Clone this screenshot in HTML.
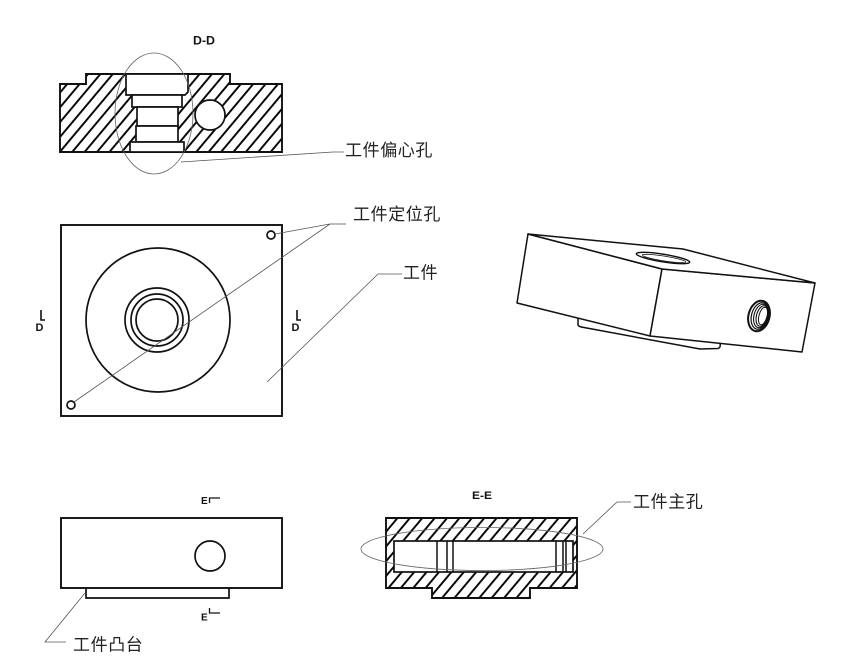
<!DOCTYPE html>
<html><head><meta charset="utf-8"><style>
html,body{margin:0;padding:0;background:#fff;}
svg{display:block;}
.cj{font-family:"Liberation Sans","Noto Sans CJK SC",sans-serif;font-size:17px;fill:#222;letter-spacing:0.6px;}
.lb{font-family:"Liberation Sans",sans-serif;font-weight:bold;fill:#111;}
</style></head><body>
<svg width="844" height="669" viewBox="0 0 844 669" xmlns="http://www.w3.org/2000/svg">
<defs>
<pattern id="h" patternUnits="userSpaceOnUse" width="9.5" height="40" patternTransform="rotate(40)">
<line x1="1" y1="-5" x2="1" y2="45" stroke="#000" stroke-width="1.9"/>
</pattern>
</defs>

<!-- D-D section -->
<text class="lb" x="193" y="44.5" font-size="12" textLength="22" lengthAdjust="spacingAndGlyphs">D-D</text>
<path d="M60,84 L86,84 L86,74 L230,74 L230,84 L282,84 L282,152 L60,152 Z" fill="url(#h)" stroke="#111" stroke-width="1.9"/>
<g fill="#fff" stroke="#111" stroke-width="1.7" stroke-linejoin="miter">
<path d="M126,74 L188,74 L188,92 L185,95 L126,95 Z"/>
<rect x="132" y="95" width="50" height="12"/>
<rect x="137" y="107" width="41" height="19"/>
<rect x="136" y="126" width="42" height="16"/>
<rect x="130" y="142" width="54" height="10"/>
<circle cx="210" cy="115" r="15"/>
</g>
<ellipse cx="154" cy="113.5" rx="39" ry="60.5" fill="none" stroke="#666" stroke-width="0.8"/>
<polyline points="181,162 333,152 344,152" fill="none" stroke="#555" stroke-width="0.8"/>
<text class="cj" x="345" y="156">工件偏心孔</text>

<!-- Plan view -->
<rect x="61" y="225" width="221" height="191" fill="none" stroke="#111" stroke-width="1.9"/>
<g fill="none" stroke="#111" stroke-width="1.7">
<circle cx="158" cy="320" r="72"/>
<circle cx="157" cy="320" r="32"/>
<circle cx="157" cy="320" r="26"/>
<circle cx="157" cy="320" r="21"/>
<circle cx="271" cy="235" r="4"/>
<circle cx="71" cy="405" r="4"/>
</g>
<g fill="none" stroke="#555" stroke-width="0.8">
<line x1="74" y1="402" x2="330" y2="224"/>
<line x1="275" y1="234" x2="330" y2="224"/>
<line x1="330" y1="224" x2="346" y2="224"/>
<polyline points="267,382 378,274 402,274"/>
</g>
<text class="cj" x="353" y="220">工件定位孔</text>
<text class="cj" x="403" y="278.5">工件</text>
<!-- D markers -->
<g fill="none" stroke="#111" stroke-width="1.6">
<polyline points="41,310 41,320 45,320"/>
<polyline points="297,310 297,320 301,320"/>
</g>
<text class="lb" x="35.5" y="331" font-size="11">D</text>
<text class="lb" x="291.5" y="331" font-size="11">D</text>

<!-- 3D view -->
<g fill="#fff" stroke="#111" stroke-width="1.5" stroke-linejoin="round">
<path d="M578,317 L578,325 Q579,327 584,327.5 L700,349 L718,348.5 Q721,347.5 720,343"/>
<polygon points="528,234 662,269 650,336 517,303"/>
<polygon points="662,269 815,283 802,352 650,336"/>
<polygon points="528,234 683,249 815,283 662,269"/>
</g>
<g fill="none" stroke="#111">
<ellipse cx="663" cy="258" rx="27" ry="3.8" transform="rotate(9 663 258)" stroke-width="1.4"/>
<ellipse cx="664" cy="258.5" rx="22" ry="2.4" transform="rotate(9 664 258.5)" stroke-width="0.8"/>
<ellipse cx="759" cy="316" rx="10.5" ry="15.5" transform="rotate(15 759 316)" stroke-width="2"/>
<ellipse cx="760" cy="316" rx="8.5" ry="13.5" transform="rotate(15 760 316)" stroke-width="1.2"/>
<ellipse cx="761" cy="316" rx="7" ry="12" transform="rotate(15 761 316)" stroke-width="1.1"/>
<ellipse cx="762" cy="316" rx="5.5" ry="10.5" transform="rotate(15 762 316)" stroke-width="1.1"/>
<ellipse cx="763" cy="316" rx="4" ry="9" transform="rotate(15 763 316)" stroke-width="1"/>
</g>

<!-- Bottom-left view -->
<text class="lb" x="201" y="504" font-size="10">E</text>
<polyline points="209.5,503 209.5,498 220,498" fill="none" stroke="#111" stroke-width="1.3"/>
<rect x="61" y="518" width="221" height="70" fill="none" stroke="#111" stroke-width="1.9"/>
<circle cx="210" cy="556" r="15" fill="none" stroke="#111" stroke-width="1.7"/>
<polyline points="86,588 86,598 229,598 229,588" fill="none" stroke="#111" stroke-width="1.7"/>
<text class="lb" x="201" y="620.5" font-size="10">E</text>
<polyline points="209.5,608 209.5,613 220,613" fill="none" stroke="#111" stroke-width="1.3"/>
<polyline points="85,593 45,642 66,642" fill="none" stroke="#555" stroke-width="0.8"/>
<text class="cj" x="73" y="650.5">工件凸台</text>

<!-- E-E section -->
<text class="lb" x="472" y="499" font-size="11" textLength="20" lengthAdjust="spacingAndGlyphs">E-E</text>
<path d="M386,518 L577,518 L577,588 L530,588 L530,598 L432,598 L432,588 L386,588 Z" fill="url(#h)" stroke="#111" stroke-width="1.9"/>
<rect x="394" y="541" width="179" height="31" fill="#fff" stroke="#111" stroke-width="1.7"/>
<g stroke="#111" stroke-width="1.5">
<line x1="437" y1="541" x2="437" y2="572"/>
<line x1="447" y1="541" x2="447" y2="572"/>
<line x1="453" y1="541" x2="453" y2="572"/>
<line x1="556" y1="541" x2="556" y2="572"/>
<line x1="563" y1="541" x2="563" y2="572"/>
<line x1="566" y1="541" x2="566" y2="572"/>
</g>
<ellipse cx="482" cy="549" rx="121" ry="21.5" fill="none" stroke="#666" stroke-width="0.8"/>
<polyline points="583,534 617,502 631,502" fill="none" stroke="#555" stroke-width="0.8"/>
<text class="cj" x="633" y="507.5">工件主孔</text>
</svg>
</body></html>
